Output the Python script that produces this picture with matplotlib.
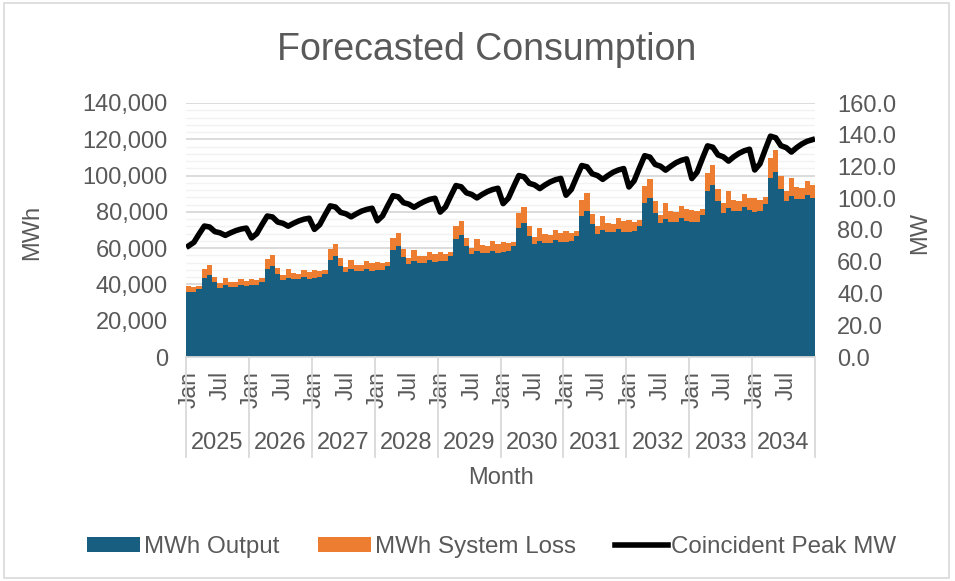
import matplotlib
matplotlib.use("Agg")
import matplotlib.pyplot as plt
from matplotlib.patches import Patch, Rectangle
from matplotlib.lines import Line2D
from matplotlib.ticker import MultipleLocator, FuncFormatter
import matplotlib.transforms as mtransforms

plt.rcParams['font.family'] = ['Liberation Sans', 'DejaVu Sans']

years = [2025, 2026, 2027, 2028, 2029, 2030, 2031, 2032, 2033, 2034]
month_labels = ["Jan", "", "", "", "", "", "Jul", "", "", "", "", ""]

mwh_output = [
    35590, 35790, 37450, 43800, 45380, 41120, 38170, 39420, 38620, 38590, 39560, 38880,
    39450, 39670, 41510, 48560, 50300, 45580, 42310, 43700, 42810, 42770, 43850, 43100,
    43590, 43840, 45870, 53650, 55580, 50370, 46760, 48290, 47300, 47260, 48460, 47620,
    47880, 48140, 50370, 58930, 61040, 55320, 51350, 53030, 51950, 51910, 53220, 52300,
    52720, 53010, 55470, 64890, 67220, 60910, 56540, 58400, 57200, 57160, 58600, 57590,
    57920, 58240, 60940, 71280, 73840, 66920, 62110, 64150, 62840, 62790, 64380, 63270,
    63320, 63670, 66620, 77930, 80730, 73160, 67910, 70140, 68710, 68650, 70380, 69170,
    68800, 69180, 72380, 84670, 87710, 79490, 73780, 76210, 74650, 74590, 76470, 75160,
    74200, 74610, 78070, 91330, 94600, 85730, 79580, 82190, 80510, 80450, 82480, 81060,
    80100, 80540, 84270, 98580, 102120, 92550, 85910, 88720, 86910, 86840, 89030, 87500,
]

mwh_loss = [
    3350, 2690, 1640, 4870, 5320, 3240, 2440, 4380, 2910, 2680, 3530, 3200,
    3710, 2980, 1820, 5400, 5900, 3590, 2700, 4860, 3220, 2970, 3920, 3550,
    4100, 3300, 2010, 5960, 6520, 3970, 2990, 5370, 3560, 3290, 4330, 3920,
    4500, 3620, 2210, 6550, 7160, 4360, 3280, 5890, 3910, 3610, 4750, 4300,
    4960, 3990, 2430, 7210, 7890, 4800, 3610, 6490, 4300, 3970, 5230, 4740,
    5450, 4380, 2670, 7920, 8660, 5270, 3970, 7130, 4730, 4360, 5750, 5210,
    5950, 4790, 2920, 8660, 9470, 5760, 4340, 7790, 5170, 4770, 6290, 5690,
    6470, 5200, 3180, 9410, 10290, 6260, 4710, 8470, 5620, 5180, 6830, 6180,
    6980, 5610, 3430, 10150, 11100, 6750, 5080, 9130, 6060, 5590, 7370, 6670,
    7530, 6060, 3700, 10950, 11980, 7290, 5490, 9860, 6540, 6040, 7950, 7200,
]

peak_mw = [
    70.0, 72.2, 77.5, 82.5, 81.9, 79.0, 78.2, 76.6, 78.2, 79.6, 80.6, 81.2,
    75.0, 77.7, 83.4, 88.8, 88.2, 85.0, 84.2, 82.4, 84.2, 85.7, 86.8, 87.4,
    80.4, 83.3, 89.4, 95.2, 94.5, 91.1, 90.2, 88.3, 90.2, 91.9, 93.0, 93.7,
    85.8, 88.9, 95.4, 101.6, 100.9, 97.2, 96.3, 94.3, 96.3, 98.0, 99.3, 100.0,
    91.3, 94.5, 101.4, 108.0, 107.2, 103.4, 102.4, 100.2, 102.4, 104.2, 105.5, 106.3,
    96.6, 100.0, 107.3, 114.3, 113.5, 109.4, 108.4, 106.1, 108.4, 110.3, 111.7, 112.5,
    101.9, 105.5, 113.2, 120.6, 119.8, 115.4, 114.3, 111.9, 114.3, 116.4, 117.8, 118.7,
    107.1, 111.0, 119.1, 126.8, 125.9, 121.3, 120.2, 117.7, 120.2, 122.4, 123.9, 124.8,
    112.4, 116.4, 124.9, 133.0, 132.1, 127.3, 126.1, 123.4, 126.1, 128.3, 129.9, 130.9,
    117.8, 121.7, 130.6, 139.1, 138.1, 133.1, 131.9, 129.1, 131.9, 134.2, 135.9, 136.9,
]

TEAL = "#185E80"
ORANGE = "#ED7D31"
GRAY_TXT = "#595959"
GRID_MAJ = "#D9D9D9"
GRID_MIN = "#F2F2F2"
FS = 17

n = len(mwh_output)
x = list(range(n))

fig = plt.figure(figsize=(9.55, 5.81), dpi=100)
ax = fig.add_axes([186/955, 224/581, (815-186)/955, (478-224)/581])

ax.bar(x, mwh_output, width=1.0, color=TEAL, linewidth=0, zorder=2)
ax.bar(x, mwh_loss, width=1.0, bottom=mwh_output, color=ORANGE, linewidth=0, zorder=2)

ax.set_xlim(-0.5, n - 0.5)
ax.set_ylim(0, 140000)
ax.yaxis.set_major_locator(MultipleLocator(20000))
ax.yaxis.set_minor_locator(MultipleLocator(4000))
ax.yaxis.set_major_formatter(FuncFormatter(lambda v, p: f"{int(v):,}"))
ax.grid(axis='y', which='minor', color=GRID_MIN, linewidth=1.0, zorder=0)
ax.grid(axis='y', which='major', color=GRID_MAJ, linewidth=1.3, zorder=0)
ax.set_axisbelow(True)
for s in ['top', 'left', 'right']:
    ax.spines[s].set_visible(False)
ax.spines['bottom'].set_color(GRID_MAJ)
ax.spines['bottom'].set_linewidth(1.3)
ax.tick_params(axis='y', which='both', length=0, labelsize=FS, labelcolor=GRAY_TXT, pad=13)

# month ticks
xt = []
xl = []
for yi in range(len(years)):
    for m, lab in enumerate(month_labels):
        if lab:
            xt.append(yi * 12 + m)
            xl.append(lab)
ax.set_xticks(xt)
ax.set_xticklabels(xl, rotation=90, fontsize=16.5, color=GRAY_TXT, va='top', ha='center')
ax.tick_params(axis='x', length=0, pad=10)

trans = mtransforms.blended_transform_factory(ax.transData, ax.transAxes)
for yi in range(len(years) + 1):
    xb = yi * 12 - 0.5
    ax.add_line(Line2D([xb, xb], [0, -0.395], transform=trans, color=GRID_MAJ,
                       linewidth=1.3, clip_on=False))
for yi, yr in enumerate(years):
    ax.text(yi * 12 + 5.5, -0.338, str(yr), transform=trans, ha='center', va='center',
            fontsize=FS, color=GRAY_TXT)

ax.text(0.5, -0.478, "Month", transform=ax.transAxes, ha='center', va='center',
        fontsize=FS, color=GRAY_TXT)
ax.set_ylabel("MWh", fontsize=FS, color=GRAY_TXT, va='center')
ax.yaxis.set_label_coords(-0.245, 0.49)

ax2 = ax.twinx()
ax2.plot(x, peak_mw, color='black', linewidth=4.0, solid_joinstyle='round', zorder=3)
ax2.set_ylim(0, 160)
ax2.yaxis.set_major_locator(MultipleLocator(20))
ax2.yaxis.set_major_formatter(FuncFormatter(lambda v, p: f"{v:.1f}"))
for s in ['top', 'left', 'right', 'bottom']:
    ax2.spines[s].set_visible(False)
ax2.tick_params(axis='y', length=0, labelsize=FS, labelcolor=GRAY_TXT, pad=16)
ax2.set_ylabel("MW", fontsize=FS, color=GRAY_TXT, va='center')
ax2.yaxis.set_label_coords(1.167, 0.49)

fig.text(487/955, 1 - 50/581, "Forecasted Consumption", ha='center', va='center',
         fontsize=27, color=GRAY_TXT)

handles = [Patch(facecolor=TEAL, edgecolor='none', label="MWh Output"),
           Patch(facecolor=ORANGE, edgecolor='none', label="MWh System Loss"),
           Line2D([0], [0], color='black', linewidth=4.0, label="Coincident Peak MW")]
fig.legend(handles=handles, loc='center', bbox_to_anchor=(0.515, 1 - 547/581), ncol=3,
           frameon=False, fontsize=17.4, labelcolor=GRAY_TXT, handlelength=2.2,
           handleheight=0.55, handletextpad=0.15, columnspacing=1.6)

fig.patches.append(Rectangle((0.004, 0.006), 0.99, 0.988, transform=fig.transFigure,
                             fill=False, edgecolor=GRID_MAJ, linewidth=1.2))

fig.savefig("out.png", dpi=100)
